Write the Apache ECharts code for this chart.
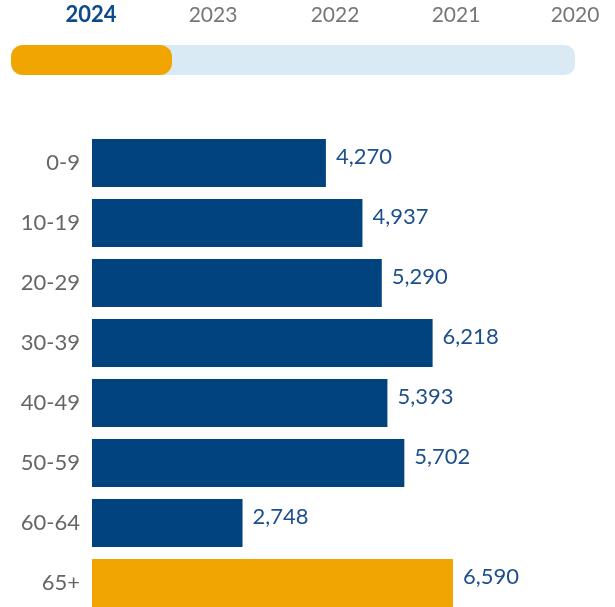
<!DOCTYPE html>
<html><head><meta charset="utf-8">
<script src="https://cdn.jsdelivr.net/npm/echarts@6/dist/echarts.min.js"></script>
<style>html,body{margin:0;padding:0;background:#fff;overflow:hidden}#c{width:615px;height:625px}</style>
</head><body><div id="c"></div>
<script>
const years = ['2024','2023','2022','2021','2020'];
const activeYear = '2024';
const categories = ['0-9','10-19','20-29','30-39','40-49','50-59','60-64','65+'];
const values = [4270, 4937, 5290, 6218, 5393, 5702, 2748, 6590];
const highlight = ['65+'];

const chart = echarts.init(document.getElementById('c'), null, {renderer:'canvas'});
const yearX = [91, 213, 335, 456, 575];
const graphics = [
  {type:'rect', shape:{x:11,y:45,width:564,height:30,r:10}, style:{fill:'#daeaf4'}},
  {type:'rect', shape:{x:11,y:45,width:161,height:30,r:12}, style:{fill:'#f0a500'}}
];
years.forEach((y,i)=>{
  graphics.push({type:'text', x:yearX[i], y:15, style:{text:y, align:'center', verticalAlign:'middle',
    font:(y===activeYear?'bold 22px':'21px')+' Lato', fill: y===activeYear?'#0d4a8a':'#777'}});
});
chart.setOption({
  animation:false,
  graphic: graphics,
  grid:{left:92, top:133, width:493, height:480, containLabel:false},
  xAxis:{type:'value', min:0, max:9000, show:false},
  yAxis:{type:'category', data:categories, inverse:true,
    axisLine:{show:false}, axisTick:{show:false},
    axisLabel:{color:'#666', fontSize:22, fontFamily:'Lato', margin:12}},
  series:[{type:'bar', barCategoryGap:'20%',
    data: values.map((v,i)=>({value:v, itemStyle:{color: highlight.includes(categories[i])?'#f0a500':'#00437f'}})),
    label:{show:true, position:'right', distance:10, offset:[0,-6], color:'#1d4f8c', fontSize:22, fontFamily:'Lato',
      formatter:p=>p.value.toLocaleString('en-US')}
  }]
});
</script></body></html>
